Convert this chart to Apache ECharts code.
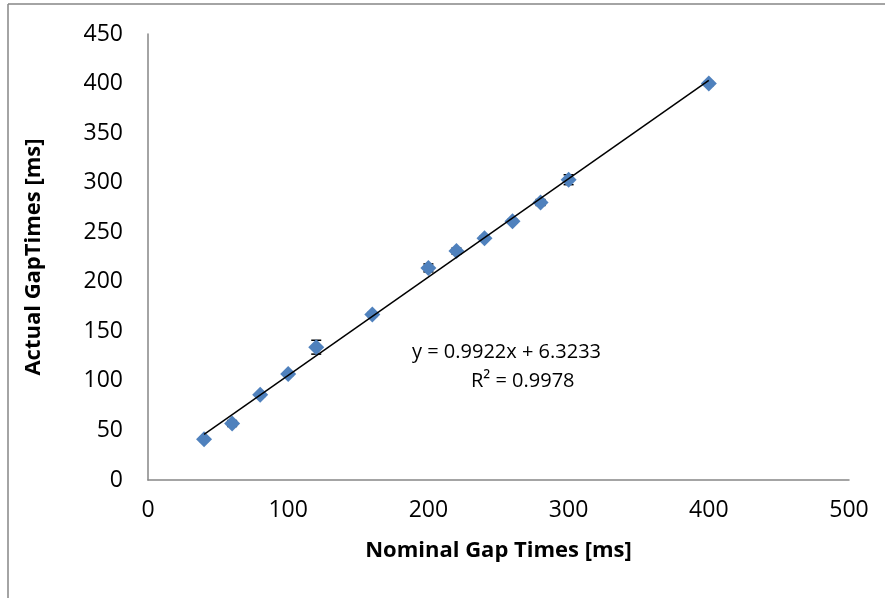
<!DOCTYPE html>
<html><head><meta charset="utf-8">
<script src="https://cdn.jsdelivr.net/npm/echarts@6/dist/echarts.min.js"></script>
<style>html,body{margin:0;padding:0;background:#fff;}#c{width:885px;height:598px;}</style>
</head><body><div id="c"></div>
<script>
const nominal = [40, 60, 80, 100, 120, 160, 200, 220, 240, 260, 280, 300, 400];
const actual  = [41, 57, 86, 107, 134, 167, 214, 231, 244, 261, 280, 303, 400];
const errors  = [2, 3, 2, 2, 7, 2, 4, 3, 2, 2, 3, 5, 2];
const slope = 0.9922, intercept = 6.3233;
const trendX = [40, 400];
const eqText = 'y = 0.9922x + 6.3233';
const r2Text = 'R² = 0.9978';

const FONT = 'Open Sans';
const chart = echarts.init(document.getElementById('c'), null, {renderer: 'canvas'});
const pts = nominal.map((x, i) => [x, actual[i]]);
const errData = nominal.map((x, i) => [x, actual[i] - errors[i], actual[i] + errors[i]]);
const trend = trendX.map(x => [x, slope * x + intercept]);

chart.setOption({
  animation: false,
  backgroundColor: '#fff',
  grid: {left: 148, top: 34, right: 36, bottom: 118},
  xAxis: {
    type: 'value', min: 0, max: 500, interval: 100,
    name: 'Nominal Gap Times [ms]', nameLocation: 'middle', nameGap: 60,
    nameTextStyle: {fontFamily: FONT, fontSize: 22, fontWeight: 'bold', color: '#000'},
    axisLine: {show: true, lineStyle: {color: '#868686', width: 1.5}},
    axisTick: {show: false}, splitLine: {show: false},
    axisLabel: {fontFamily: FONT, fontSize: 23, color: '#000', margin: 19}
  },
  yAxis: {
    type: 'value', min: 0, max: 450, interval: 50,
    name: 'Actual GapTimes [ms]', nameLocation: 'middle', nameGap: 103, nameRotate: 90,
    nameTextStyle: {fontFamily: FONT, fontSize: 22, fontWeight: 'bold', color: '#000'},
    axisLine: {show: true, lineStyle: {color: '#868686', width: 1.5}},
    axisTick: {show: false}, splitLine: {show: false},
    axisLabel: {fontFamily: FONT, fontSize: 23, color: '#000', margin: 25}
  },
  graphic: [
    {type: 'line', shape: {x1: 8, y1: 4, x2: 885, y2: 4}, style: {stroke: '#868686', lineWidth: 1.5}},
    {type: 'line', shape: {x1: 8, y1: 4, x2: 8, y2: 598}, style: {stroke: '#868686', lineWidth: 1.5}},
    {type: 'text', left: 412, top: 342, style: {text: eqText, font: '20px "Open Sans"', fill: '#000'}},
    {type: 'text', left: 471, top: 371, style: {text: r2Text, font: '20px "Open Sans"', fill: '#000'}}
  ],
  series: [
    {
      type: 'custom', data: errData, z: 2,
      renderItem: function (params, api) {
        const x = api.value(0);
        const lo = api.coord([x, api.value(1)]);
        const hi = api.coord([x, api.value(2)]);
        const w = 5;
        const st = {stroke: '#000', lineWidth: 1.5};
        return {type: 'group', children: [
          {type: 'line', shape: {x1: lo[0], y1: lo[1], x2: hi[0], y2: hi[1]}, style: st},
          {type: 'line', shape: {x1: lo[0] - w, y1: lo[1], x2: lo[0] + w, y2: lo[1]}, style: st},
          {type: 'line', shape: {x1: hi[0] - w, y1: hi[1], x2: hi[0] + w, y2: hi[1]}, style: st}
        ]};
      }
    },
    {
      type: 'scatter', data: pts, symbol: 'diamond', symbolSize: 16,
      itemStyle: {color: '#4F81BD', opacity: 1}, z: 3
    },
    {
      type: 'line', data: trend, symbol: 'none', z: 5,
      lineStyle: {color: '#000', width: 1.5}
    }
  ]
});
</script></body></html>
